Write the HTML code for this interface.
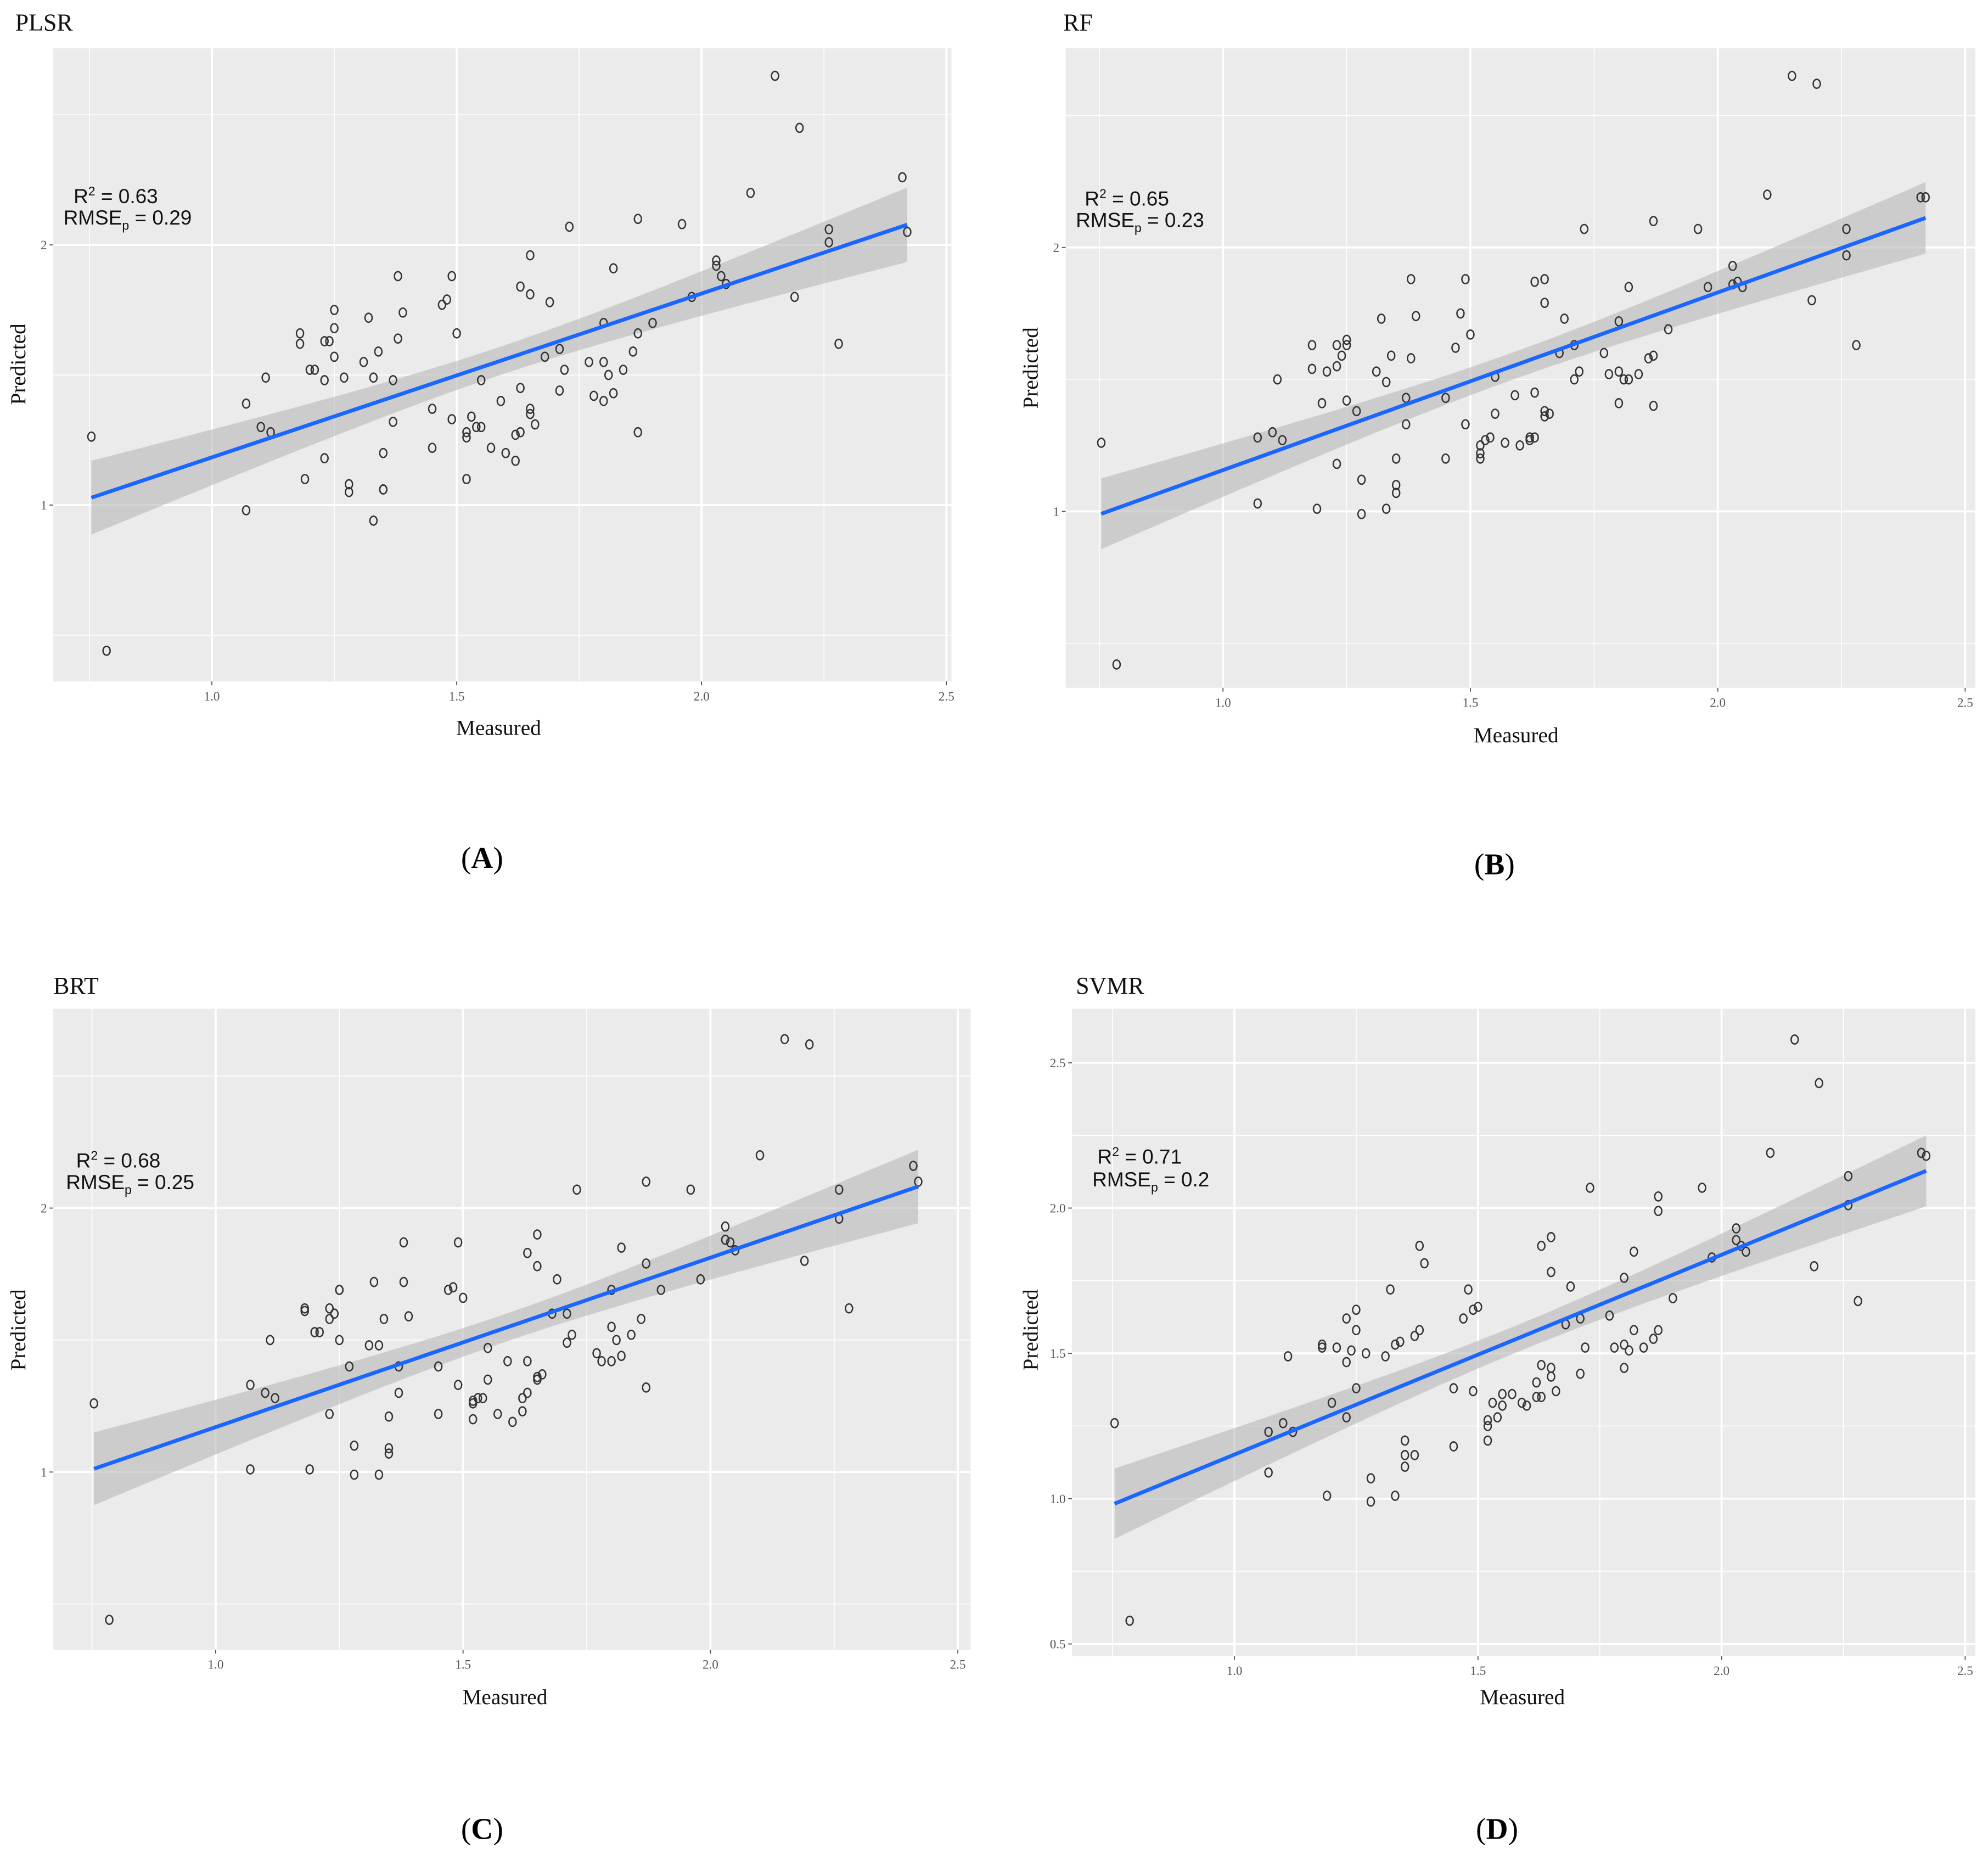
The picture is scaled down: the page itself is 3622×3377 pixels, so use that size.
<!DOCTYPE html>
<html><head><meta charset="utf-8"><style>
html,body{margin:0;padding:0;background:#fff}
svg{display:block}
.tick{font-family:"Liberation Serif",serif;font-size:10px;fill:#555}
.axt{font-family:"Liberation Serif",serif;font-size:17px;fill:#111}
.ttl{font-family:"Liberation Serif",serif;font-size:19px;fill:#111}
.ann{font-family:"Liberation Sans Narrow","Liberation Sans",sans-serif;font-size:16px;fill:#111}
.lab{font-family:"Liberation Serif",serif;font-size:24px;fill:#000}
</style></head><body>
<svg id="fig" width="3622" height="3377" viewBox="0 0 1567 1461" xmlns="http://www.w3.org/2000/svg"></svg>
<script>
const measured=[0.754,0.785,1.07,1.07,1.10,1.11,1.12,1.18,1.18,1.19,1.20,1.21,1.23,1.23,1.23,1.24,1.25,1.25,1.25,1.27,1.28,1.28,1.31,1.32,1.33,1.33,1.34,1.35,1.35,1.35,1.37,1.37,1.38,1.38,1.39,1.45,1.45,1.47,1.48,1.49,1.49,1.50,1.52,1.52,1.52,1.53,1.54,1.55,1.55,1.57,1.59,1.60,1.62,1.63,1.62,1.63,1.63,1.65,1.65,1.65,1.65,1.66,1.68,1.69,1.71,1.71,1.72,1.73,1.77,1.78,1.80,1.80,1.80,1.81,1.82,1.82,1.84,1.86,1.87,1.87,1.87,1.90,1.96,1.98,2.03,2.03,2.04,2.05,2.10,2.15,2.19,2.20,2.26,2.26,2.28,2.41,2.42];
const predPLSR=[1.263,0.44,1.39,0.98,1.30,1.49,1.28,1.62,1.66,1.10,1.52,1.52,1.48,1.18,1.63,1.63,1.75,1.68,1.57,1.49,1.08,1.05,1.55,1.72,0.94,1.49,1.59,1.20,1.06,1.06,1.32,1.48,1.64,1.88,1.74,1.37,1.22,1.77,1.79,1.33,1.88,1.66,1.28,1.26,1.10,1.34,1.30,1.48,1.30,1.22,1.40,1.20,1.27,1.45,1.17,1.84,1.28,1.37,1.35,1.96,1.81,1.31,1.57,1.78,1.60,1.44,1.52,2.07,1.55,1.42,1.55,1.70,1.40,1.50,1.43,1.91,1.52,1.59,1.66,2.10,1.28,1.70,2.08,1.80,1.92,1.94,1.88,1.85,2.20,2.65,1.80,2.45,2.06,2.01,1.62,2.26,2.05];
const predRF=[1.26,0.42,1.28,1.03,1.30,1.50,1.27,1.63,1.54,1.01,1.41,1.53,1.55,1.18,1.63,1.59,1.65,1.63,1.42,1.38,1.12,0.99,1.53,1.73,1.01,1.49,1.59,1.20,1.07,1.10,1.33,1.43,1.58,1.88,1.74,1.43,1.20,1.62,1.75,1.33,1.88,1.67,1.20,1.25,1.22,1.27,1.28,1.51,1.37,1.26,1.44,1.25,1.27,1.45,1.28,1.87,1.28,1.38,1.36,1.88,1.79,1.37,1.60,1.73,1.63,1.50,1.53,2.07,1.60,1.52,1.53,1.72,1.41,1.50,1.50,1.85,1.52,1.58,1.59,2.10,1.40,1.69,2.07,1.85,1.93,1.86,1.87,1.85,2.20,2.65,1.80,2.62,2.07,1.97,1.63,2.19,2.19];
const predBRT=[1.26,0.44,1.33,1.01,1.30,1.50,1.28,1.62,1.61,1.01,1.53,1.53,1.62,1.22,1.58,1.60,1.69,1.69,1.50,1.40,1.10,0.99,1.48,1.72,0.99,1.48,1.58,1.21,1.07,1.09,1.30,1.40,1.72,1.87,1.59,1.40,1.22,1.69,1.70,1.33,1.87,1.66,1.27,1.26,1.20,1.28,1.28,1.47,1.35,1.22,1.42,1.19,1.28,1.42,1.23,1.83,1.30,1.36,1.35,1.90,1.78,1.37,1.60,1.73,1.60,1.49,1.52,2.07,1.45,1.42,1.55,1.69,1.42,1.50,1.44,1.85,1.52,1.58,1.79,2.10,1.32,1.69,2.07,1.73,1.93,1.88,1.87,1.84,2.20,2.64,1.80,2.62,2.07,1.96,1.62,2.16,2.10];
const predSVMR=[1.26,0.58,1.23,1.09,1.26,1.49,1.23,1.52,1.53,1.01,1.33,1.52,1.47,1.28,1.62,1.51,1.65,1.58,1.38,1.50,1.07,0.99,1.49,1.72,1.01,1.53,1.54,1.20,1.11,1.15,1.15,1.56,1.58,1.87,1.81,1.38,1.18,1.62,1.72,1.37,1.65,1.66,1.20,1.25,1.27,1.33,1.28,1.36,1.32,1.36,1.33,1.32,1.35,1.46,1.40,1.87,1.35,1.45,1.42,1.90,1.78,1.37,1.60,1.73,1.62,1.43,1.52,2.07,1.63,1.52,1.53,1.76,1.45,1.51,1.58,1.85,1.52,1.55,1.58,2.04,1.99,1.69,2.07,1.83,1.93,1.89,1.87,1.85,2.19,2.58,1.80,2.43,2.11,2.01,1.68,2.19,2.18];

const yTicksABC=[1,2];
const yTicksD=[0.5,1.0,1.5,2.0,2.5];
const xTicks=[1.0,1.5,2.0,2.5];

const NS="http://www.w3.org/2000/svg";
const svg=document.getElementById('fig');
function mk(tag,attrs,parent){const e=document.createElementNS(NS,tag);for(const k in attrs)e.setAttribute(k,attrs[k]);(parent||svg).appendChild(e);return e;}

const panels=[
 {id:'a',title:'PLSR',pred:predPLSR,rect:[42,38,750,537],x1:167,xs:386,y1:398,ys:205,yt:yTicksABC,ytl:['1','2'],minorY:[0.5,1.5,2.5],
  tt:[12,24],ml:[393,579],pl:[20,287],ann:[58,160,50,177],r2:'0.63',rm:'0.29',let:['A',380,684]},
 {id:'b',title:'RF',pred:predRF,rect:[840,38,1557,542],x1:964,xs:390,y1:403,ys:208,yt:yTicksABC,ytl:['1','2'],minorY:[0.5,1.5,2.5],
  tt:[838,24],ml:[1195,585],pl:[818,290],ann:[855,162,848,179],r2:'0.65',rm:'0.23',let:['B',1178,689]},
 {id:'c',title:'BRT',pred:predBRT,rect:[42,795,765,1300],x1:170,xs:390,y1:1160,ys:208,yt:yTicksABC,ytl:['1','2'],minorY:[0.5,1.5,2.5],
  tt:[42,783],ml:[398,1343],pl:[20,1048],ann:[60,920,52,937],r2:'0.68',rm:'0.25',let:['C',380,1449]},
 {id:'d',title:'SVMR',pred:predSVMR,rect:[845,795,1557,1305],x1:973,xs:384,y1:1181,ys:229,yt:yTicksD,ytl:['0.5','1.0','1.5','2.0','2.5'],minorY:[0.75,1.25,1.75,2.25],
  tt:[848,783],ml:[1200,1343],pl:[818,1048],ann:[865,917,861,935],r2:'0.71',rm:'0.2',let:['D',1180,1449]}
];

panels.forEach(p=>{
 const g=mk('g',{});
 
 
 const X=v=>p.x1+(v-1)*p.xs, Y=v=>p.y1-(v-1)*p.ys;
 const [l,t,r,b]=p.rect;
 const bg=mk('rect',{x:l,y:t,width:r-l,height:b-t,fill:'#ebebeb'},g);
 
 
 [0.75,1.25,1.75,2.25].forEach(v=>{const x=X(v);if(x>l&&x<r)mk('line',{x1:x,x2:x,y1:t,y2:b,stroke:'#fff','stroke-width':0.7},g);});
 p.minorY.forEach(v=>{const y=Y(v);if(y>t&&y<b)mk('line',{x1:l,x2:r,y1:y,y2:y,stroke:'#fff','stroke-width':0.7},g);});
 xTicks.forEach(v=>{const x=X(v);if(x>l&&x<r)mk('line',{x1:x,x2:x,y1:t,y2:b,stroke:'#fff','stroke-width':1.6},g);
   mk('line',{x1:x,x2:x,y1:b,y2:b+3,stroke:'#555','stroke-width':0.8},g);
   const tx=mk('text',{x:x,y:b+15,'text-anchor':'middle',class:'tick'},g);tx.textContent=v.toFixed(1);
   
   });
 p.yt.forEach((v,i)=>{const y=Y(v);mk('line',{x1:l,x2:r,y1:y,y2:y,stroke:'#fff','stroke-width':1.6},g);
   mk('line',{x1:l-3,x2:l,y1:y,y2:y,stroke:'#555','stroke-width':0.8},g);
   const tx=mk('text',{x:l-5,y:y+3.5,'text-anchor':'end',class:'tick'},g);tx.textContent=p.ytl[i];
   
   });
 const xs=measured,ys=p.pred,n=Math.min(xs.length,ys.length);
 let mx=0,my=0;for(let i=0;i<n;i++){mx+=xs[i];my+=ys[i];}mx/=n;my/=n;
 let sxx=0,sxy=0;for(let i=0;i<n;i++){sxx+=(xs[i]-mx)**2;sxy+=(xs[i]-mx)*(ys[i]-my);}
 const sl=sxy/sxx,ic=my-sl*mx;let sse=0;for(let i=0;i<n;i++)sse+=(ys[i]-ic-sl*xs[i])**2;
 const s=Math.sqrt(sse/(n-2));
 const xmin=Math.min(...xs),xmax=Math.max(...xs);
 const up=[],dn=[];
 for(let k=0;k<=40;k++){const v=xmin+(xmax-xmin)*k/40;const f=ic+sl*v;const se=1.99*s*Math.sqrt(1/n+(v-mx)**2/sxx);
   up.push(X(v)+','+Y(f+se));dn.unshift(X(v)+','+Y(f-se));}
 const band=mk('polygon',{points:up.concat(dn).join(' '),fill:'#b8b8b8','fill-opacity':0.6},g);
 
 
 for(let i=0;i<n;i++){const c=mk('ellipse',{cx:X(xs[i]),cy:Y(ys[i]),rx:2.8,ry:3.5,fill:'none',stroke:'#333','stroke-width':1.1},g);
   
   }
 const ln=mk('line',{x1:X(xmin),y1:Y(ic+sl*xmin),x2:X(xmax),y2:Y(ic+sl*xmax),stroke:'#1a66ff','stroke-width':3},g);
 
 
 const a1=mk('text',{x:p.ann[0],y:p.ann[1],class:'ann'},g);
 a1.innerHTML='R<tspan dy="-6" font-size="10">2</tspan><tspan dy="6"> = '+p.r2+'</tspan>';
 
 
 const a2=mk('text',{x:p.ann[2],y:p.ann[3],class:'ann'},g);
 a2.innerHTML='RMSE<tspan dy="4" font-size="10">p</tspan><tspan dy="-4"> = '+p.rm+'</tspan>';
 
 
 const tt=mk('text',{x:p.tt[0],y:p.tt[1],class:'ttl'},g);tt.textContent=p.title;
 
 
 const ml=mk('text',{x:p.ml[0],y:p.ml[1],'text-anchor':'middle',class:'axt'},g);ml.textContent='Measured';
 
 
 const pl=mk('text',{x:p.pl[0],y:p.pl[1],'text-anchor':'middle',class:'axt',transform:'rotate(-90 '+p.pl[0]+' '+p.pl[1]+')'},g);pl.textContent='Predicted';
 
 
 const lt=mk('text',{x:p.let[1],y:p.let[2],'text-anchor':'middle',class:'lab'},g);
 lt.innerHTML='(<tspan font-weight="bold">'+p.let[0]+'</tspan>)';
 
 
});
</script>
</body></html>
